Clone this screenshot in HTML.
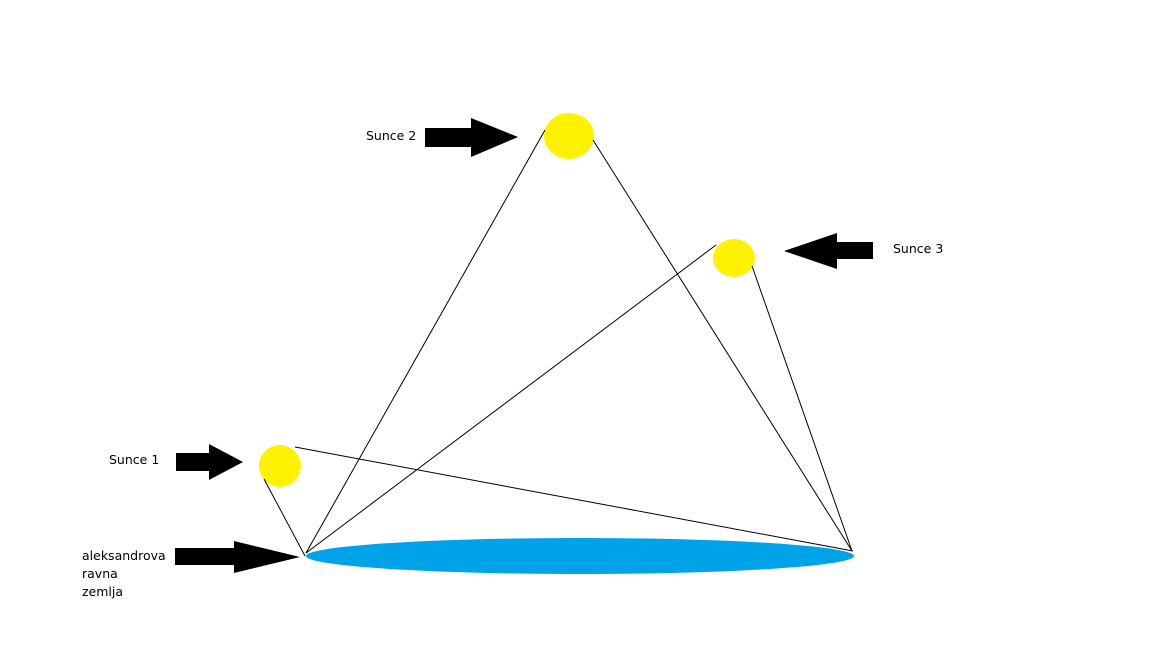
<!DOCTYPE html>
<html><head><style>
html,body{margin:0;padding:0;background:#fff;width:1152px;height:648px;overflow:hidden}
svg{display:block}
text{font-family:"DejaVu Sans","Liberation Sans",sans-serif;font-size:12.5px;fill:#000}
</style></head><body>
<svg width="1152" height="648" viewBox="0 0 1152 648" xmlns="http://www.w3.org/2000/svg">
<ellipse cx="580" cy="556" rx="274" ry="18" fill="#00a2e8"/>
<ellipse cx="280" cy="466" rx="21" ry="21" fill="#fff200"/>
<ellipse cx="569" cy="136" rx="25" ry="23" fill="#fff200"/>
<ellipse cx="734" cy="258" rx="21" ry="19" fill="#fff200"/>
<g stroke="#000" stroke-width="1" fill="none">
<line x1="306" y1="553" x2="545" y2="130"/>
<line x1="306" y1="553" x2="716" y2="245"/>
<line x1="305" y1="556" x2="264" y2="479"/>
<line x1="295" y1="447" x2="853" y2="551"/>
<line x1="593" y1="140" x2="852" y2="551"/>
<line x1="752" y1="266" x2="852" y2="551"/>
</g>
<g fill="#000">
<polygon points="176,453 209,453 209,444 243,462 209,480 209,471 176,471"/>
<polygon points="425,128 471,128 471,118 518,137 471,157 471,147 425,147"/>
<polygon points="873,242 837,242 837,233 784,251 837,269 837,259 873,259"/>
<polygon points="175,548 234,548 234,541 300,557 234,573 234,565 175,565"/>
</g>
<text x="109" y="464">Sunce 1</text>
<text x="366" y="140">Sunce 2</text>
<text x="893" y="253">Sunce 3</text>
<text x="82" y="560">aleksandrova</text>
<text x="82" y="578">ravna</text>
<text x="82" y="596">zemlja</text>
</svg>
</body></html>
